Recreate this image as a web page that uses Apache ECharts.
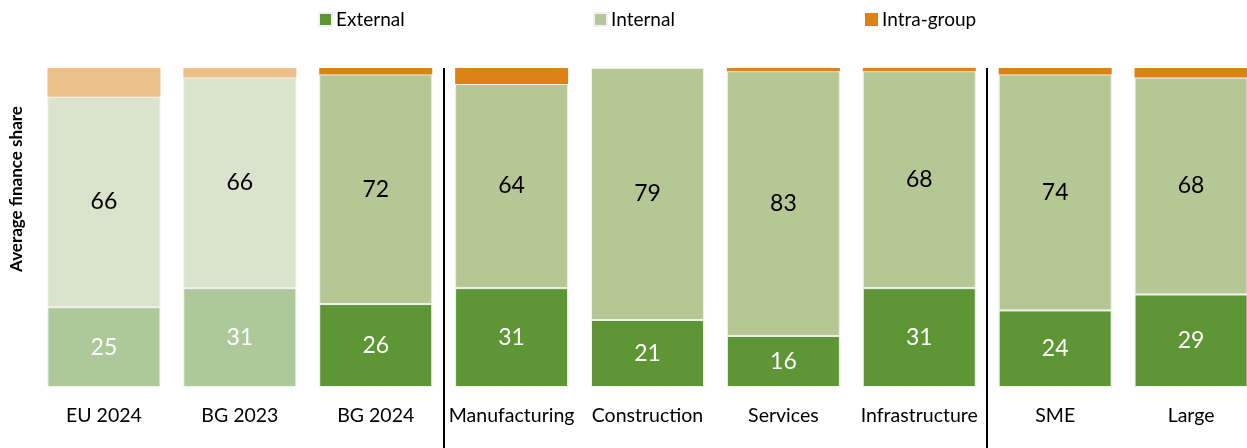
<!DOCTYPE html>
<html>
<head>
<meta charset="utf-8">
<script src="https://cdn.jsdelivr.net/npm/echarts@6/dist/echarts.min.js"></script>
<style>
  html, body { margin: 0; padding: 0; background: #fff; overflow: hidden; }
  #chart { width: 1260px; height: 448px; }
</style>
</head>
<body>
<div id="chart"></div>
<script>
// Average finance share by source (%)
const categories = ['EU 2024', 'BG 2023', 'BG 2024', 'Manufacturing', 'Construction', 'Services', 'Infrastructure', 'SME', 'Large'];
const external = [25, 31, 26, 31, 21, 16, 31, 24, 29];
const internal = [66, 66, 72, 64, 79, 83, 68, 74, 68];
const intraGroup = [9, 3, 2, 5, 0, 1, 1, 2, 3];
// Reference groups drawn in pale tones
const paleCategories = ['EU 2024', 'BG 2023'];
// Group separators sit after these categories
const separatorsAfter = ['BG 2024', 'Infrastructure'];

const FONT = 'Lato';
const colors = {
  external: { strong: '#5E9535', pale: '#ADC99A' },
  internal: { strong: '#B6C796', pale: '#DAE3CB' },
  intra:    { strong: '#DB8316', pale: '#EDC189' }
};

function seriesData(values, palette) {
  return values.map((v, i) => ({
    value: v,
    itemStyle: { color: paleCategories.includes(categories[i]) ? palette.pale : palette.strong }
  }));
}

const barCommon = {
  type: 'bar',
  stack: 'share',
  barWidth: 113,
  itemStyle: { borderColor: '#f0f0f0', borderWidth: 1 },
  emphasis: { disabled: true }
};

function legendAt(name, left) {
  return {
    data: [name],
    left: left,
    top: 5,
    itemWidth: 13,
    itemHeight: 13,
    itemGap: 0,
    icon: 'rect',
    selectedMode: false,
    textStyle: { fontFamily: FONT, fontSize: 19, color: '#000', padding: [0, 0, 0, -1] }
  };
}

const chart = echarts.init(document.getElementById('chart'), null, { renderer: 'canvas' });

chart.setOption({
  animation: false,
  backgroundColor: '#fff',
  legend: [
    legendAt('External', 313),
    legendAt('Internal', 588),
    legendAt('Intra-group', 860)
  ],
  grid: { left: 36, top: 68, bottom: 61, width: 1223, containLabel: false },
  xAxis: {
    type: 'category',
    data: categories,
    axisLine: { show: false },
    axisTick: { show: false },
    axisLabel: { fontFamily: FONT, fontSize: 19.5, color: '#000', margin: 19, interval: 0 }
  },
  yAxis: {
    type: 'value',
    min: 0,
    max: 100,
    show: false
  },
  series: [
    Object.assign({}, barCommon, {
      name: 'External',
      color: colors.external.strong,
      data: seriesData(external, colors.external),
      label: { show: true, position: 'inside', color: '#fff', fontFamily: FONT, fontSize: 23 }
    }),
    Object.assign({}, barCommon, {
      name: 'Internal',
      color: colors.internal.strong,
      data: seriesData(internal, colors.internal),
      label: { show: true, position: 'inside', color: '#000', fontFamily: FONT, fontSize: 23 }
    }),
    Object.assign({}, barCommon, {
      name: 'Intra-group',
      color: colors.intra.strong,
      itemStyle: { borderWidth: 0 },
      data: seriesData(intraGroup, colors.intra)
    })
  ]
});

// Vertical separators between groups, placed midway between neighbouring categories
const grid = chart.getModel().getComponent('grid').coordinateSystem.getRect();
const separators = separatorsAfter.map(name => {
  const i = categories.indexOf(name);
  const a = chart.convertToPixel({ xAxisIndex: 0 }, categories[i]);
  const b = chart.convertToPixel({ xAxisIndex: 0 }, categories[i + 1]);
  const x = Math.round((a + b) / 2);
  return {
    type: 'line',
    shape: { x1: x, y1: grid.y, x2: x, y2: 448 },
    style: { stroke: '#000', lineWidth: 2 }
  };
});

chart.setOption({
  graphic: separators.concat([{
    type: 'text',
    rotation: Math.PI / 2,
    x: 17,
    y: 189,
    style: {
      text: 'Average finance share',
      fontFamily: FONT,
      fontWeight: 'bold',
      fontSize: 17,
      fill: '#000',
      align: 'center',
      verticalAlign: 'middle'
    }
  }])
});
</script>
</body>
</html>
